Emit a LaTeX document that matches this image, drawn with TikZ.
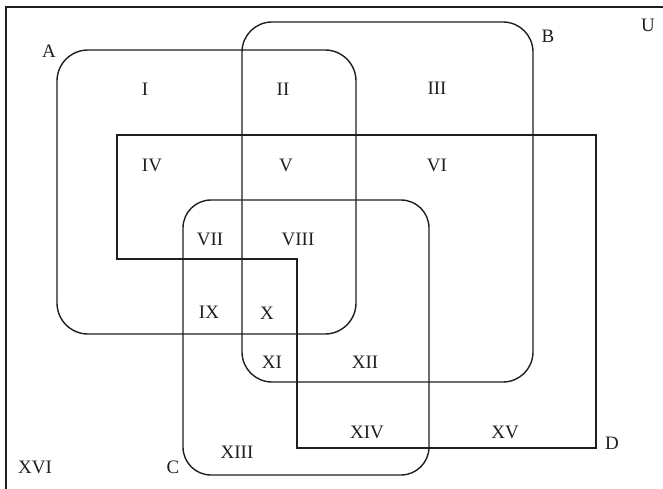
\documentclass[tikz,border=0pt]{standalone}
\usepackage{fontspec}
\setmainfont{Liberation Serif}
\begin{document}
\begin{tikzpicture}[x=1pt,y=-1pt,
  setline/.style={draw=black!88, line width=1.4pt},
  framel/.style={draw=black!88, line width=1.8pt},
  lab/.style={font=\fontsize{19}{22}\selectfont, text=black!88, inner sep=0pt}]
\useasboundingbox (0,0) rectangle (663,489);
% universe frame (cropped at right and bottom)
\draw[framel] (6,489) -- (6,7) -- (663,7);
% A, B, C: rounded rectangles
\draw[setline, rounded corners=31pt] (57,50) rectangle (356,334);
\draw[setline, rounded corners=30pt] (242,22) rectangle (533,382);
\draw[setline, rounded corners=28pt] (183,200) rectangle (429,475);
% D: L-shaped polygon
\draw[setline] (117,135) -- (596,135) -- (596,448) -- (297,448) -- (297,259) -- (117,259) -- cycle;
% set names
\node[lab] (nA) at (49,51) {A};
\node[lab] (nB) at (548,36) {B};
\node[lab] (nC) at (173,467) {C};
\node[lab] (nD) at (612,443) {D};
\node[lab] (nU) at (648,25) {U};
% regions
\node[lab] (r1) at (145,89) {I};
\node[lab] (r2) at (283,89) {II};
\node[lab] (r3) at (437,88) {III};
\node[lab] (r4) at (152,165) {IV};
\node[lab] (r5) at (286,165) {V};
\node[lab] (r6) at (437,165) {VI};
\node[lab] (r7) at (210,239) {VII};
\node[lab] (r8) at (298,239) {VIII};
\node[lab] (r9) at (209,312) {IX};
\node[lab] (r10) at (267,313) {X};
\node[lab] (r11) at (272,362) {XI};
\node[lab] (r12) at (365,362) {XII};
\node[lab] (r13) at (237,452) {XIII};
\node[lab] (r14) at (367,432) {XIV};
\node[lab] (r15) at (505,432) {XV};
\node[lab] (r16) at (35,467) {XVI};
\end{tikzpicture}
\end{document}
